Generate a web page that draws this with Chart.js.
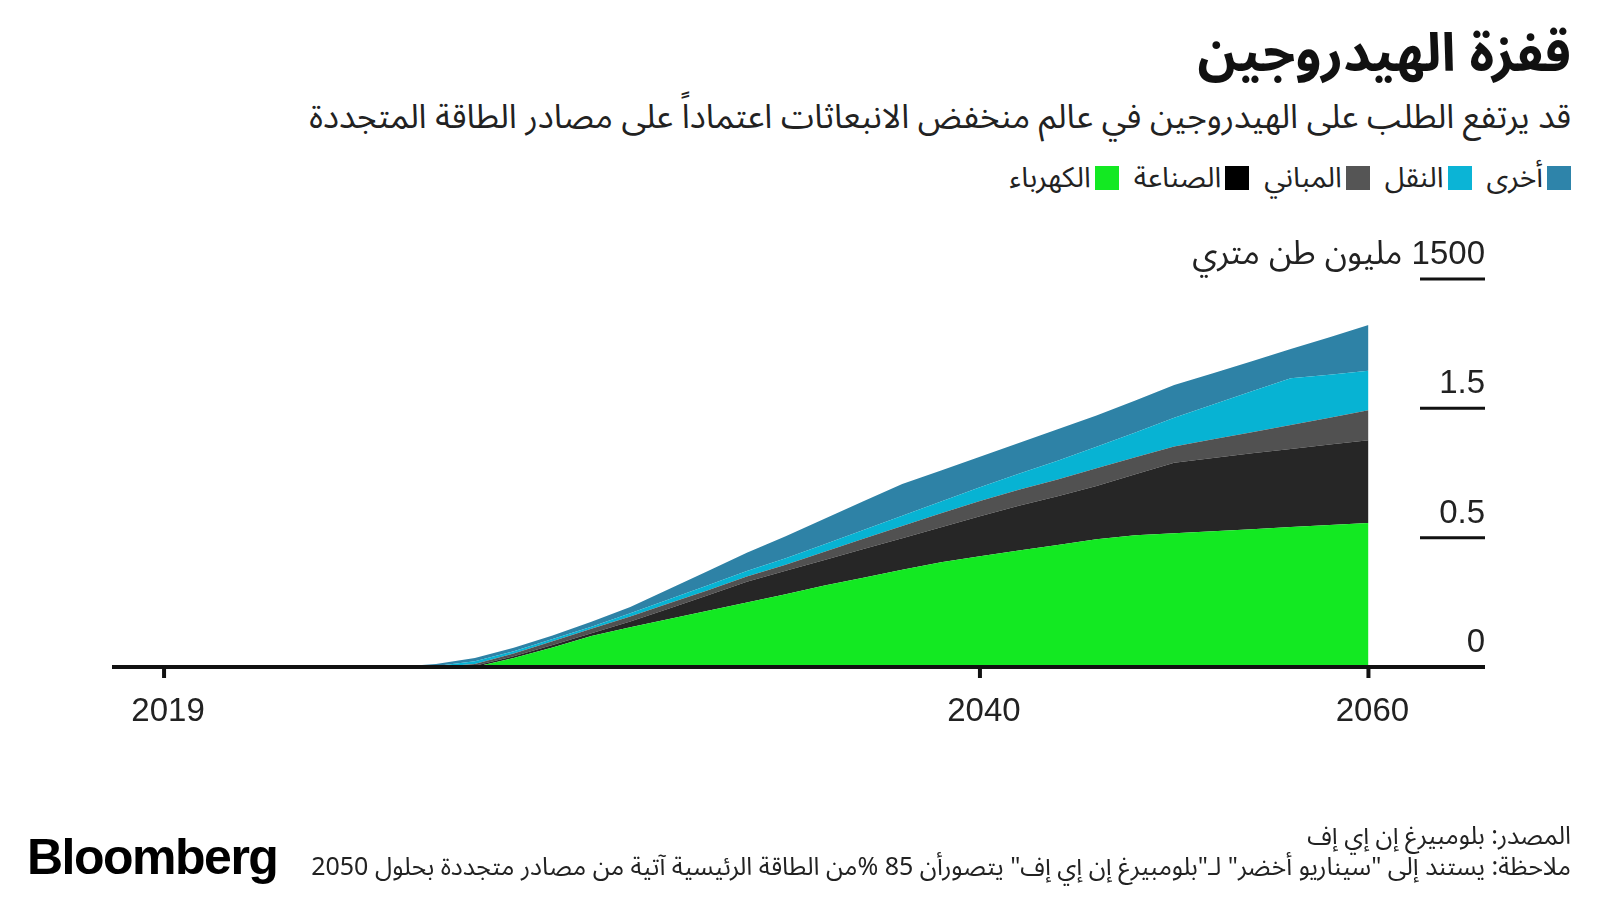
<!DOCTYPE html>
<html lang="ar">
<head>
<meta charset="utf-8">
<script src="https://cdn.jsdelivr.net/npm/chart.js@4/dist/chart.umd.min.js"></script>
<style>
  html, body { margin: 0; padding: 0; background: #fff; }
  body { width: 1600px; height: 900px; position: relative; overflow: hidden; font-family: "Noto Sans Arabic", "DejaVu Sans", sans-serif; color: #111; }
  #chart { position: absolute; left: 0; top: 0; }
  .rtl { direction: rtl; position: absolute; right: 29px; white-space: nowrap; }
  #title { top: -2px; font-size: 53px; font-weight: bold; }
  #subtitle { top: 82px; font-size: 33.5px; color: #222; }
  #legend { top: 148px; font-size: 28.5px; display: flex; gap: 15px; color: #222; }
  #legend span { display: inline-flex; align-items: center; }
  #legend i { display: inline-block; width: 24px; height: 24px; margin-left: 4px; }
  #source { top: 810px; font-size: 25px; color: #222; }
  #note { top: 841px; font-size: 25px; color: #222; }
  #brand { position: absolute; left: 27px; top: 828px; font-family: "Liberation Sans", Arial, sans-serif; font-weight: bold; font-size: 50px; letter-spacing: -1.5px; color: #000; }
</style>
</head>
<body>
<div id="title" class="rtl">قفزة الهيدروجين</div>
<div id="subtitle" class="rtl">قد يرتفع الطلب على الهيدروجين في عالم منخفض الانبعاثات اعتماداً على مصادر الطاقة المتجددة</div>
<div id="legend" class="rtl"></div>
<canvas id="chart" width="1600" height="900"></canvas>
<div id="source" class="rtl">المصدر: بلومبيرغ إن إي إف</div>
<div id="note" class="rtl">ملاحظة: يستند إلى "سيناريو أخضر" لـ"بلومبيرغ إن إي إف" يتصورأن 85 %من الطاقة الرئيسية آتية من مصادر متجددة بحلول 2050</div>
<div id="brand">Bloomberg</div>
<script>
// years and demand per sector (million tonnes)
const years = [2019,2020,2021,2022,2023,2024,2025,2026,2027,2028,2029,2030,2031,2032,2033,2034,2035,2036,2037,2038,2039,2040,2041,2042,2043,2044,2045,2046,2047,2048,2049,2050];
const kahraba  = [0,0,0,0,0,0,0,0,0,35,75,120,154,186,217,249,281,315,345,376,405,428,450,472,494,509,517,525,533,541,549,557];
const sinaa    = [0,0,0,0,0,0,0,0,5,7,10,10,22,40,60,81,91,99,111,122,135,155,173,188,206,236,273,283,293,302,311,320];
const mabani   = [0,0,0,0,0,0,0,0,7,10,15,18,19,20,20,20,23,32,40,47,54,59,62,65,68,66,62,72,82,93,104,116];
const naql     = [0,0,0,0,0,0,0,4,10,9,8,8,13,16,19,21,25,29,34,40,46,53,62,72,83,96,112,135,158,180,166,152];
const ukhra    = [0,0,0,0,0,0,1,8,13,13,14,19,24,40,55,71,85,98,111,122,120,118,119,122,121,123,126,121,116,113,145,177];

const seriesNames = ['الكهرباء','الصناعة','المباني','النقل','أخرى'];
const seriesColors = ['#13e922','#262626','#515151','#07b3d3','#2e82a6'];
const legendColors = ['#13e922','#000000','#555555','#0bb4d6','#2e84aa'];

const yTickValues = [0, 500, 1000, 1500];
const yTickLabels = ['0', '0.5', '1.5', '1500 مليون طن متري'];
const xTickValues = [2019, 2040, 2050];
const xTickLabels = ['2019', '2040', '2060'];

// legend, right to left
let legend = document.getElementById('legend');
[4,3,2,1,0].forEach(i => {
  legend.innerHTML += `<span><i style="background:${legendColors[i]}"></i>${seriesNames[i]}</span>`;
});

const allSeries = [kahraba, sinaa, mabani, naql, ukhra];

const axesPlugin = {
  id: 'axes',
  afterDatasetsDraw(chart) {
    const ctx = chart.ctx;
    const xs = chart.scales.x, ys = chart.scales.y;
    const area = chart.chartArea;
    ctx.save();
    ctx.fillStyle = '#222';
    ctx.strokeStyle = '#111';
    // y ticks: short lines on the right with labels above
    ctx.font = '33px "Liberation Sans", Arial, "Noto Sans Arabic", "DejaVu Sans", sans-serif';
    ctx.textAlign = 'right';
    ctx.textBaseline = 'alphabetic';
    ctx.direction = 'rtl';
    yTickValues.forEach((v, i) => {
      const y = ys.getPixelForValue(v);
      if (v !== 0) {
        ctx.lineWidth = 3;
        ctx.beginPath();
        ctx.moveTo(1420, y);
        ctx.lineTo(area.right, y);
        ctx.stroke();
      }
      ctx.fillText(yTickLabels[i], area.right, y - 15);
    });
    // x axis line
    const y0 = ys.getPixelForValue(0);
    ctx.lineWidth = 4;
    ctx.beginPath();
    ctx.moveTo(area.left, y0);
    ctx.lineTo(area.right, y0);
    ctx.stroke();
    // x ticks
    ctx.direction = 'ltr';
    ctx.textAlign = 'center';
    xTickValues.forEach((v, i) => {
      const x = xs.getPixelForValue(v);
      ctx.lineWidth = 4;
      ctx.beginPath();
      ctx.moveTo(x, y0);
      ctx.lineTo(x, y0 + 11);
      ctx.stroke();
      ctx.fillText(xTickLabels[i], x + 4, 721);
    });
    ctx.restore();
  }
};

new Chart(document.getElementById('chart'), {
  type: 'line',
  data: {
    datasets: allSeries.map((s, i) => ({
      label: seriesNames[i],
      data: years.map((yr, j) => ({ x: yr, y: s[j] })),
      backgroundColor: seriesColors[i],
      borderWidth: 0,
      pointRadius: 0,
      tension: 0,
      fill: i === 0 ? 'origin' : '-1'
    }))
  },
  options: {
    responsive: false,
    animation: false,
    devicePixelRatio: 1,
    layout: { padding: { left: 112, right: 115, top: 279, bottom: 233 } },
    plugins: { legend: { display: false }, tooltip: { enabled: false } },
    scales: {
      x: { type: 'linear', min: 2017.66, max: 2053, display: false },
      y: { stacked: true, min: 0, max: 1500, display: false }
    }
  },
  plugins: [axesPlugin]
});
</script>
</body>
</html>
